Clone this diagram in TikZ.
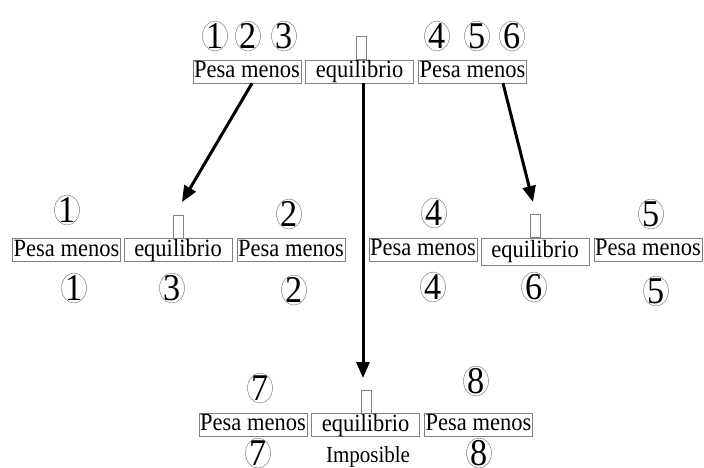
\documentclass[tikz,border=0pt]{standalone}
\usepackage{fontspec}
\setmainfont{Liberation Serif}
\usetikzlibrary{arrows.meta}
\newcommand\tall[1]{\scalebox{1}[1.1]{#1}}
\tikzset{
  box/.style={draw=gray, line width=0.6pt, minimum width=108pt, minimum height=23pt,
    inner sep=0pt, font=\fontsize{22.5}{22.5}\selectfont, text height=16pt, text depth=4pt},
  tinybox/.style={draw=gray, line width=0.6pt, minimum width=10pt, minimum height=23pt, inner sep=0pt},
  numtxt/.style={inner sep=0pt, font=\fontsize{36}{36}\selectfont},
  ring/.style={draw=gray, line width=0.5pt},
  arr/.style={line width=3pt, -{Triangle[length=16pt,width=13pt]}},
  lbl/.style={inner sep=0pt, font=\fontsize{21}{21}\selectfont}
}
\newcommand\numc[3]{\node[numtxt] (#1) at (#2) {\scalebox{0.95}[1.05]{#3}}; \draw[ring] (#1.center) ellipse (12.5pt and 15pt);}
\begin{document}
\begin{tikzpicture}[x=1pt,y=-1pt]
\useasboundingbox (0,0) rectangle (704,467);
% top row
\node[box] (t1) at (247,71.5) {\tall{Pesa menos}};
\node[box] (t2) at (359.5,71.5) {\tall{equilibrio}};
\node[box] (t3) at (472.5,71.5) {\tall{Pesa menos}};
\node[tinybox] (tr) at (361,48) {};
\numc{a1}{215,36}{1}
\numc{a2}{248,36}{2}
\numc{a3}{284,36}{3}
\numc{a4}{437,36}{4}
\numc{a5}{477,36}{5}
\numc{a6}{512,36}{6}
% middle left
\node[box] (l1) at (66.5,250) {\tall{Pesa menos}};
\node[box] (l2) at (178,250) {\tall{equilibrio}};
\node[box] (l3) at (291,250) {\tall{Pesa menos}};
\node[tinybox] (lr) at (178.5,226.5) {};
\numc{b1}{67,210}{1}
\numc{b2}{289,214}{2}
\numc{b3}{74,288}{1}
\numc{b4}{172,288}{3}
\numc{b5}{294,290}{2}
% middle right
\node[box] (r1) at (423,249.5) {\tall{Pesa menos}};
\node[box, minimum height=27pt] (r2) at (535,251.5) {\tall{equilibrio}};
\node[box] (r3) at (648,249.5) {\tall{Pesa menos}};
\node[tinybox] (rr) at (535.5,226) {};
\numc{c1}{434,213}{4}
\numc{c2}{651,214}{5}
\numc{c3}{433,287}{4}
\numc{c4}{534,287}{6}
\numc{c5}{656,291}{5}
% bottom
\node[box] (d1) at (253,424.5) {\tall{Pesa menos}};
\node[box] (d2) at (365.5,425) {\tall{equilibrio}};
\node[box] (d3) at (478.5,424.5) {\tall{Pesa menos}};
\node[tinybox] (dr) at (366.5,401.5) {};
\numc{e1}{260,388}{7}
\numc{e2}{476,381}{8}
\numc{e3}{258,453}{7}
\numc{e4}{479,453}{8}
\node[lbl] (imp) at (368,457) {\tall{Imposible}};
% arrows
\coordinate (ltip) at (182,202);
\coordinate (mtip) at (363,378);
\coordinate (rtip) at (533,202);
\draw[arr] ([xshift=5pt]t1.south) -- (ltip);
\draw[arr] ([xshift=3.5pt]t2.south) -- (mtip);
\draw[arr] ([xshift=30.5pt]t3.south) -- (rtip);
\end{tikzpicture}
\end{document}
